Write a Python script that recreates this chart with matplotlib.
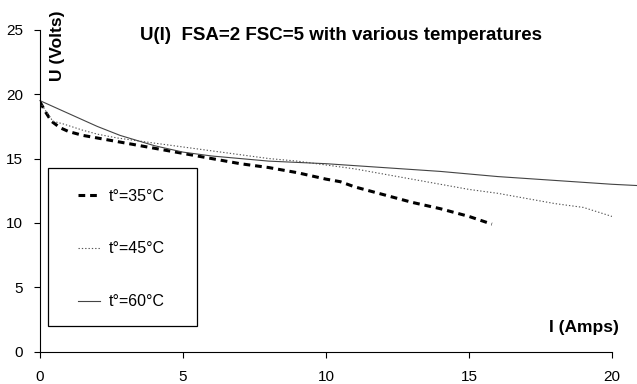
import matplotlib.pyplot as plt
from matplotlib.patches import Rectangle

plt.rcParams['font.family'] = ['Liberation Sans', 'DejaVu Sans']

# valores
i_35 = [0, 0.2, 0.4, 0.7, 1.0, 1.5, 2.0, 3.0, 4.0, 5.0, 6.0, 7.0, 8.0, 9.0, 10.0, 10.5, 11.0, 12.0, 13.0, 14.0, 15.0, 15.8]
u_35 = [19.4, 18.6, 17.9, 17.4, 17.1, 16.8, 16.6, 16.2, 15.8, 15.4, 15.0, 14.6, 14.3, 13.9, 13.4, 13.2, 12.8, 12.2, 11.6, 11.1, 10.5, 9.9]

i_45 = [0, 0.2, 0.45, 0.8, 1.5, 2.0, 2.7, 4.0, 5.0, 6.0, 7.0, 8.0, 9.0, 10.0, 11.0, 12.0, 13.0, 14.0, 15.0, 16.0, 17.0, 18.0, 19.0, 20.0]
u_45 = [19.4, 18.7, 17.9, 17.7, 17.2, 16.9, 16.6, 16.2, 15.9, 15.6, 15.3, 15.0, 14.8, 14.5, 14.2, 13.8, 13.4, 13.0, 12.6, 12.3, 11.9, 11.5, 11.2, 10.5]

i_60 = [0, 0.5, 1.0, 1.5, 2.0, 2.8, 4.0, 5.0, 6.0, 7.0, 8.0, 9.0, 10.0, 12.0, 14.0, 16.0, 18.0, 20.0, 20.9]
u_60 = [19.5, 19.0, 18.5, 18.0, 17.5, 16.8, 16.0, 15.5, 15.2, 15.0, 14.8, 14.7, 14.6, 14.3, 14.0, 13.6, 13.3, 13.0, 12.9]

fig = plt.figure(figsize=(6.37, 3.84), dpi=100)
ax = fig.add_axes([0.0628, 0.0846, 0.898, 0.8375])

ax.plot(i_35, u_35, color='black', lw=2.2, linestyle=(0, (2.2, 1.6)), label='t°=35°C')
ax.plot(i_45, u_45, color='#555555', lw=0.8, linestyle=(0, (1.2, 1.8)), label='t°=45°C')
ax.plot(i_60, u_60, color='#444444', lw=0.8, label='t°=60°C', clip_on=False)

ax.set_xlim(0, 20)
ax.set_ylim(0, 25)
ax.set_xticks([0, 5, 10, 15, 20])
ax.set_yticks([0, 5, 10, 15, 20, 25])
ax.spines['top'].set_visible(False)
ax.spines['right'].set_visible(False)
ax.tick_params(direction='out', length=4, labelsize=11)
ax.tick_params(axis='x', pad=9)
ax.tick_params(axis='y', pad=8)

fig.text(0.536, 0.896, 'U(I)  FSA=2 FSC=5 with various temperatures',
         ha='center', va='baseline', fontsize=13.5, fontweight='bold')
ax.text(0.0306, 0.95, 'U (Volts)', transform=ax.transAxes, rotation=90,
        ha='center', va='center', fontsize=12.5, fontweight='bold')
ax.text(0.9502, 0.076, 'I (Amps)', transform=ax.transAxes,
        ha='center', va='center', fontsize=12.5, fontweight='bold')

# cuadro de la leyenda dibujado a mano
ax.add_patch(Rectangle((0.014, 0.079), 0.2605, 0.492, transform=ax.transAxes,
                       fill=True, facecolor='white', edgecolor='black', lw=0.9, zorder=4))
leg = ax.legend(loc='upper left', bbox_to_anchor=(0.0664, 0.506), borderaxespad=0,
                fontsize=11.5, handlelength=1.4, handletextpad=0.5,
                labelspacing=2.36, borderpad=0, frameon=False)
leg.set_zorder(5)

plt.savefig('out.png', dpi=100)
